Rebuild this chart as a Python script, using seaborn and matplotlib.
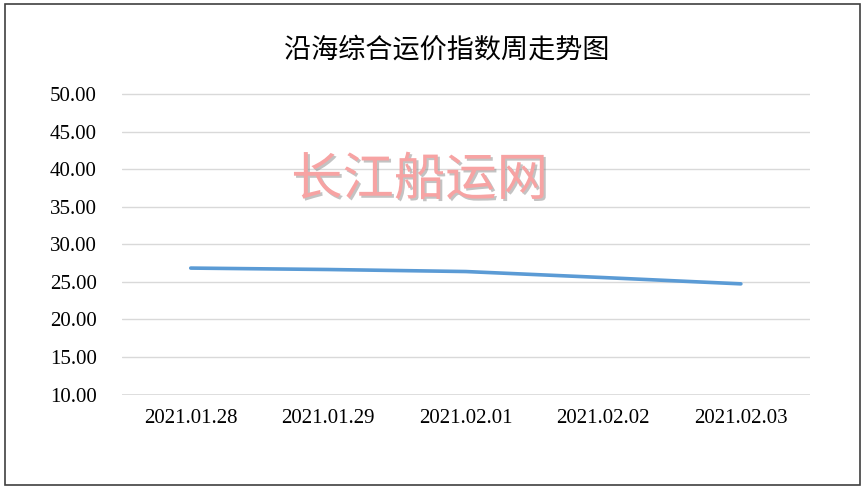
import matplotlib
matplotlib.use("Agg")
import matplotlib.pyplot as plt
import matplotlib.patheffects as pe
from matplotlib.patches import Rectangle
import seaborn as sns
import pandas as pd

# data
dates = ["2021.01.28", "2021.01.29", "2021.02.01", "2021.02.02", "2021.02.03"]
index_values = [26.83, 26.64, 26.37, 25.57, 24.73]
y_ticks = [10, 15, 20, 25, 30, 35, 40, 45, 50]

title = "沿海综合运价指数周走势图"
watermark = "长江船运网"

sns.set_style("white")
plt.rcParams['font.family'] = ['Liberation Serif', 'Noto Sans CJK SC', 'DejaVu Sans']

df = pd.DataFrame({"date": dates, "value": index_values})

fig = plt.figure(figsize=(8.65, 4.91), dpi=100)
ax = fig.add_axes([0.141, 0.195, 0.795, 0.615])

sns.lineplot(data=df, x="date", y="value", ax=ax, color='#5B9BD5',
             linewidth=2.6, sort=False, zorder=3)

ax.set_xlim(-0.5, len(dates) - 0.5)
ax.set_ylim(9.9, 50.1)
ax.set_yticks(y_ticks)
ax.set_yticklabels([f"{v:.2f}" for v in y_ticks], fontsize=15)
ax.set_xticks(range(len(dates)))
ax.set_xticklabels(dates, fontsize=15)
ax.tick_params(axis='both', length=0, colors='black')
ax.tick_params(axis='y', pad=18)
ax.tick_params(axis='x', pad=10)
ax.set_xlabel("")
ax.set_ylabel("")
ax.grid(axis='y', color='#D9D9D9', linewidth=1)
ax.grid(axis='x', visible=False)
# bottom category axis line
ax.axhline(y_ticks[0], color='#D9D9D9', linewidth=1.2, zorder=2)
for side in ['top', 'right', 'left', 'bottom']:
    ax.spines[side].set_visible(False)

fig.text(0.516, 0.898, title, ha='center', va='center', fontsize=19.5,
         family=['Noto Sans CJK SC', 'DejaVu Sans'], color='black')

fig.text(0.485, 0.633, watermark, ha='center', va='center', fontsize=37,
         family=['Noto Sans CJK SC', 'DejaVu Sans'], color='#F7A3A3',
         path_effects=[pe.SimplePatchShadow(offset=(1.5, -1.5), shadow_rgbFace='#888888', alpha=0.5),
                       pe.Normal()])

fig.patches.append(Rectangle((0.006, 0.012), 0.988, 0.98, transform=fig.transFigure,
                             fill=False, edgecolor='#404040', linewidth=1.2))

fig.savefig("out.png", dpi=100)
